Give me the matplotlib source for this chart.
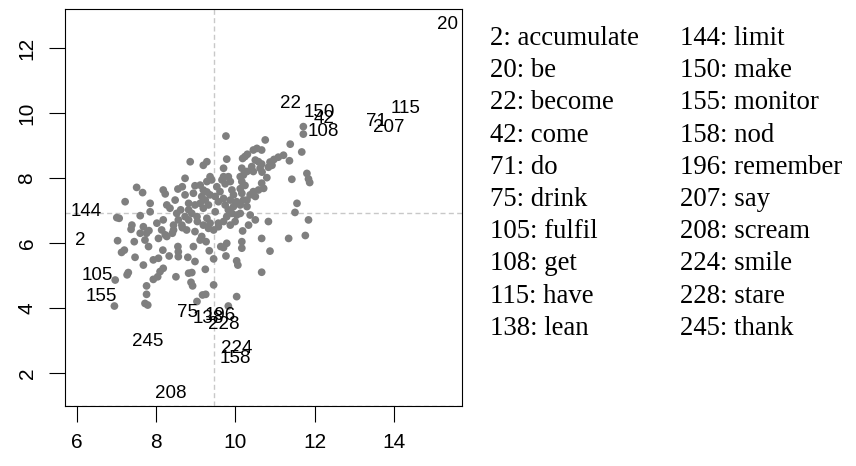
import matplotlib
matplotlib.use("Agg")
import matplotlib.pyplot as plt

# ---- unlabeled points (data units) ----
x_vals = [9.76, 11.71, 11.71, 10.75, 11.38, 11.67, 10.54, 10.66, 10.45, 10.24,
          10.30, 10.18, 11.21, 11.08, 10.97, 11.36, 10.87, 10.92, 10.83, 10.58,
          10.66, 10.62, 10.67, 10.50, 10.41, 10.45, 9.78, 9.28, 9.19, 8.86,
          9.70, 10.16, 10.29, 10.20, 10.79, 11.42, 11.80, 11.84, 11.87, 9.36,
          9.40, 9.28, 9.70, 9.82, 9.87, 9.74, 9.66, 10.12, 10.16, 10.24,
          10.12, 10.66, 10.71, 10.58, 10.45, 10.37, 10.50, 10.29, 9.11, 9.19,
          9.28, 9.36, 9.15, 9.53, 9.61, 9.49, 9.70, 9.57, 9.91, 9.95,
          9.87, 10.03, 9.95, 10.16, 10.20, 10.12, 10.29, 9.24, 9.32, 9.19,
          9.11, 9.74, 9.82, 9.91, 9.78, 9.70, 10.03, 9.99, 10.12, 10.37,
          9.28, 9.36, 9.57, 9.19, 9.32, 10.33, 10.83, 11.55, 11.50, 11.84,
          8.73, 8.66, 8.55, 8.98, 7.51, 7.66, 8.18, 8.23, 7.22, 7.85,
          8.48, 8.27, 8.35, 8.73, 8.94, 8.82, 8.98, 7.85, 7.60, 7.01,
          7.07, 7.39, 7.68, 8.02, 8.18, 8.44, 8.56, 8.65, 8.52, 8.62,
          8.82, 8.73, 9.03, 9.04, 8.82, 8.90, 7.03, 7.45, 7.72, 7.76,
          7.37, 8.06, 8.23, 8.14, 8.44, 8.66, 8.77, 8.98, 9.11, 7.13,
          7.20, 7.47, 7.81, 7.93, 8.06, 8.17, 7.68, 8.33, 8.55, 8.56,
          8.56, 8.80, 8.94, 8.98, 7.27, 7.30, 8.18, 8.10, 8.04, 7.93,
          8.50, 8.82, 8.90, 8.88, 8.92, 6.97, 7.76, 7.76, 7.72, 7.79,
          6.95, 9.17, 9.25, 9.03, 10.66, 11.34, 11.76, 10.87, 10.66, 10.18,
          10.16, 10.16, 10.03, 10.06, 9.78, 9.63, 9.70, 9.76, 9.45, 9.34,
          9.26, 9.15, 9.24, 9.45, 10.03, 9.82, 9.45, 9.57, 9.87, 10.50,
          9.49, 7.82, 7.60, 8.41, 8.27]
y_vals = [9.30, 9.59, 9.36, 9.18, 9.05, 8.81, 8.92, 8.87, 8.87, 8.67,
          8.74, 8.61, 8.71, 8.65, 8.58, 8.54, 8.50, 8.40, 8.34, 8.51,
          8.44, 8.31, 8.19, 8.56, 8.36, 8.21, 8.59, 8.51, 8.40, 8.51,
          8.31, 8.31, 8.21, 8.10, 8.02, 7.97, 8.15, 7.98, 7.87, 8.05,
          7.95, 7.90, 8.05, 8.05, 7.90, 7.83, 7.95, 8.05, 7.90, 7.78,
          7.68, 7.85, 7.69, 7.64, 7.59, 7.49, 7.44, 7.33, 7.79, 7.64,
          7.58, 7.49, 7.44, 7.74, 7.59, 7.44, 7.38, 7.28, 7.64, 7.49,
          7.33, 7.28, 7.13, 7.54, 7.33, 7.18, 7.13, 7.33, 7.18, 7.08,
          7.23, 7.18, 7.03, 6.92, 6.82, 6.67, 6.87, 6.67, 6.92, 6.87,
          6.77, 6.62, 6.62, 6.56, 6.46, 6.56, 6.67, 7.23, 6.95, 6.72,
          8.00, 7.74, 7.67, 7.77, 7.72, 7.56, 7.64, 7.52, 7.28, 7.23,
          7.33, 7.18, 7.08, 7.49, 7.54, 7.23, 7.18, 6.97, 6.85, 6.79,
          6.77, 6.56, 6.51, 6.62, 6.72, 6.56, 6.72, 6.56, 6.92, 7.03,
          7.03, 6.82, 6.82, 6.67, 6.72, 6.92, 6.08, 6.05, 6.10, 6.31,
          6.43, 6.15, 6.26, 6.41, 6.41, 6.48, 6.41, 6.36, 6.10, 5.72,
          5.79, 5.57, 5.90, 5.49, 5.54, 5.79, 5.33, 5.61, 5.90, 5.74,
          5.59, 5.57, 5.90, 5.44, 5.03, 5.10, 5.23, 5.13, 4.97, 4.89,
          4.97, 5.08, 5.10, 4.80, 4.69, 4.87, 4.69, 4.43, 4.15, 4.10,
          4.07, 4.41, 4.43, 4.21, 6.15, 6.15, 6.24, 5.76, 5.11, 6.38,
          6.05, 5.85, 5.46, 5.33, 6.00, 5.90, 5.87, 5.61, 5.52, 5.77,
          6.05, 6.21, 5.20, 4.72, 4.36, 4.07, 6.41, 6.51, 6.56, 6.72,
          6.97, 6.39, 6.31, 6.31, 6.21]

# ---- labelled points ----
label_ids = ["20", "22", "150", "42", "108", "71", "207", "115", "144", "2",
             "105", "155", "75", "138", "196", "228", "224", "158", "245", "208"]
label_x = [15.35, 11.39, 12.12, 12.22, 12.22, 13.55, 13.86, 14.28, 6.24, 6.08,
           6.52, 6.62, 8.80, 9.32, 9.61, 9.70, 10.03, 9.99, 7.78, 8.38]
label_y = [12.72, 10.29, 10.02, 9.85, 9.44, 9.74, 9.57, 10.15, 6.97, 6.10,
           5.00, 4.36, 3.87, 3.69, 3.79, 3.49, 2.77, 2.46, 2.97, 1.38]

# ---- legend text ----
legend_col1 = ["2: accumulate", "20: be", "22: become", "42: come", "71: do",
               "75: drink", "105: fulfil", "108: get", "115: have", "138: lean"]
legend_col2 = ["144: limit", "150: make", "155: monitor", "158: nod",
               "196: remember", "207: say", "208: scream", "224: smile",
               "228: stare", "245: thank"]

# reference lines
ref_x = 9.46
ref_y = 6.94
ref_y_low = 1.0

xticks = [6, 8, 10, 12, 14]
yticks = [2, 4, 6, 8, 10, 12]

W, H = 856, 466
fig = plt.figure(figsize=(W / 100, H / 100), dpi=100)
ax = fig.add_axes([65 / W, 1 - 406 / H, (461.7 - 65) / W, (406 - 9.3) / H])
ax.set_xlim(5.705, 15.70)
ax.set_ylim(0.994, 13.2)

dash = (0, (3.6, 2.4))
for yv in (ref_y, ref_y_low):
    ax.axhline(yv, color="#c8c8c8", lw=1.0, ls=dash, zorder=1)
ax.axvline(ref_x, color="#c8c8c8", lw=1.0, ls=dash, zorder=1)

ax.scatter(x_vals, y_vals, s=31, c="#7f7f7f", edgecolors="none", zorder=2)

for t, lx, ly in zip(label_ids, label_x, label_y):
    ax.text(lx, ly, t, ha="center", va="center", fontsize=13.5,
            family="Liberation Sans", color="black", zorder=3)

for sp in ax.spines.values():
    sp.set_linewidth(0.8)
    sp.set_color("black")

ax.set_xticks(xticks)
ax.set_yticks(yticks)
ax.set_xticklabels([str(v) for v in xticks], family="Liberation Sans", fontsize=15)
ax.set_yticklabels([str(v) for v in yticks], family="Liberation Sans", fontsize=15,
                   rotation=90, va="center")
ax.tick_params(axis="both", direction="out", length=11.5, width=0.8)
ax.tick_params(axis="x", pad=8)
ax.tick_params(axis="y", pad=9)

# legend text block
x1 = 490 / W
x2 = 680.5 / W
for i, (a, b) in enumerate(zip(legend_col1, legend_col2)):
    yb = 1 - (45 + 32.2 * i) / H
    fig.text(x1, yb, a, family="Liberation Serif", fontsize=19.3, va="baseline", ha="left")
    fig.text(x2, yb, b, family="Liberation Serif", fontsize=19.3, va="baseline", ha="left")

fig.savefig("out.png", dpi=100)
